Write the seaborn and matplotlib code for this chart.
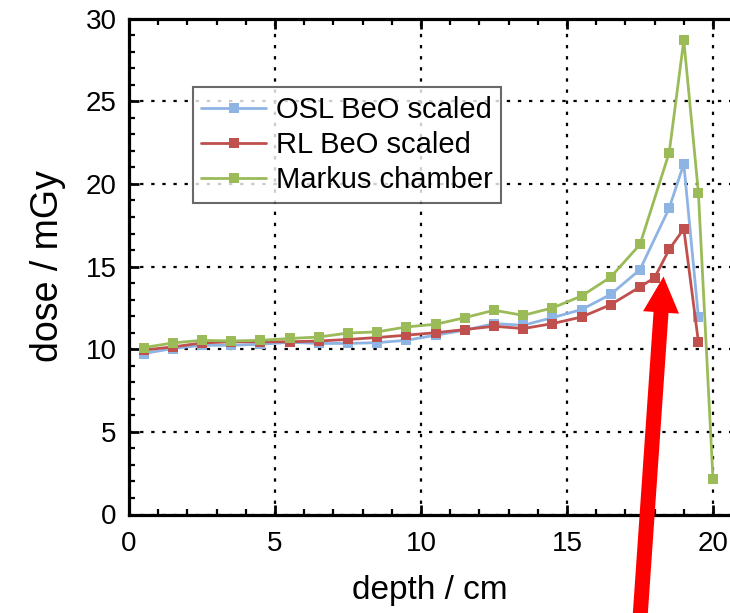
import matplotlib
matplotlib.use("Agg")
import matplotlib.pyplot as plt
from matplotlib.patches import Polygon
from matplotlib.ticker import MultipleLocator
import numpy as np
import seaborn as sns

# Depth-dose measurements
depth_osl = [0.5, 1.5, 2.5, 3.5, 4.5, 5.5, 6.5, 7.5, 8.5, 9.5, 10.5, 11.5, 12.5,
             13.5, 14.5, 15.5, 16.5, 17.5, 18.5, 19.0, 19.5]
dose_osl = [9.74, 10.04, 10.24, 10.24, 10.30, 10.42, 10.35, 10.35, 10.40, 10.54,
            10.85, 11.15, 11.55, 11.45, 11.91, 12.40, 13.32, 14.82, 18.54, 21.22, 11.95]

depth_rl = [0.5, 1.5, 2.5, 3.5, 4.5, 5.5, 6.5, 7.5, 8.5, 9.5, 10.5, 11.5, 12.5,
            13.5, 14.5, 15.5, 16.5, 17.5, 18.0, 18.5, 19.0, 19.5]
dose_rl = [9.95, 10.14, 10.38, 10.45, 10.45, 10.45, 10.50, 10.59, 10.71, 10.85,
           11.00, 11.19, 11.39, 11.25, 11.55, 11.95, 12.70, 13.77, 14.33, 16.04, 17.29, 10.44]

depth_markus = [0.5, 1.5, 2.5, 3.5, 4.5, 5.5, 6.5, 7.5, 8.5, 9.5, 10.5, 11.5, 12.5,
                13.5, 14.5, 15.5, 16.5, 17.5, 18.5, 19.0, 19.5, 20.0]
dose_markus = [10.10, 10.38, 10.54, 10.50, 10.54, 10.65, 10.74, 10.98, 11.05, 11.35,
               11.51, 11.91, 12.36, 12.05, 12.50, 13.22, 14.37, 16.34, 21.90, 28.70, 19.47, 2.13]

series_labels = ["OSL BeO scaled", "RL BeO scaled", "Markus chamber"]
series_colors = ["#8EB4E3", "#C0504D", "#9BBB59"]

sns.set_style("white")
plt.rcParams["font.family"] = ["Liberation Sans", "DejaVu Sans"]
plt.rcParams["text.color"] = "black"
plt.rcParams["axes.labelcolor"] = "black"

W, H = 730, 613
fig = plt.figure(figsize=(W / 100, H / 100), dpi=100)
ax = fig.add_axes([129 / W, 1 - 514.5 / H, (W - 129) / W, (514.5 - 18.7) / H])

for (x, y), lab, col in zip([(depth_osl, dose_osl), (depth_rl, dose_rl),
                             (depth_markus, dose_markus)], series_labels, series_colors):
    sns.lineplot(x=x, y=y, ax=ax, color=col, marker="s", markersize=6.5,
                 markeredgewidth=0, linewidth=2.0, label=lab)

ax.set_xlim(0, 601 / 29.2)
ax.set_ylim(0, 30)
ax.xaxis.set_major_locator(MultipleLocator(5))
ax.xaxis.set_minor_locator(MultipleLocator(1))
ax.yaxis.set_major_locator(MultipleLocator(5))
ax.yaxis.set_minor_locator(MultipleLocator(1))

ax.grid(True, which="major", color="black", linestyle=(0, (1.5, 3.5)), linewidth=1.6)
ax.set_axisbelow(True)

for side in ["left", "bottom", "top"]:
    ax.spines[side].set_linewidth(2.3)
    ax.spines[side].set_color("black")
ax.spines["right"].set_visible(False)

ax.tick_params(which="both", direction="in", top=True, bottom=True, left=True,
               right=False, colors="black")
ax.tick_params(which="major", length=7, width=2, labelsize=20, pad=9)
ax.tick_params(which="minor", length=4.5, width=1.6)
ax.tick_params(axis="x", which="major", pad=12)

ax.set_xlabel("depth / cm", fontsize=24, labelpad=13)
ax.set_ylabel("dose / mGy", fontsize=27, labelpad=14)

leg = ax.legend(loc="upper left", bbox_to_anchor=(0.106, 0.862), borderaxespad=0,
                fontsize=21, frameon=True, fancybox=False, handlelength=2.2,
                handletextpad=0.35, labelspacing=0.25, borderpad=0.3)
leg.get_frame().set_edgecolor("#444444")
leg.get_frame().set_linewidth(1.5)
for t in leg.get_texts():
    t.set_color("black")

# Red pointer arrow drawn in figure pixel space
def px(pt):
    return (pt[0] / W, 1 - pt[1] / H)

tip = np.array([663.5, 276.5])
tail = np.array([638.5, 640.0])
u = (tip - tail) / np.linalg.norm(tip - tail)
n = np.array([-u[1], u[0]])
head_len, head_half, shaft_half = 36, 18, 7.5
base = tip - u * head_len
verts = [tail + n * shaft_half, base + n * shaft_half, base + n * head_half, tip,
         base - n * head_half, base - n * shaft_half, tail - n * shaft_half]
fig.patches.append(Polygon([px(v) for v in verts], closed=True, facecolor="#FF0000",
                           edgecolor="none", transform=fig.transFigure, zorder=10))

fig.savefig("out.png", dpi=100)
